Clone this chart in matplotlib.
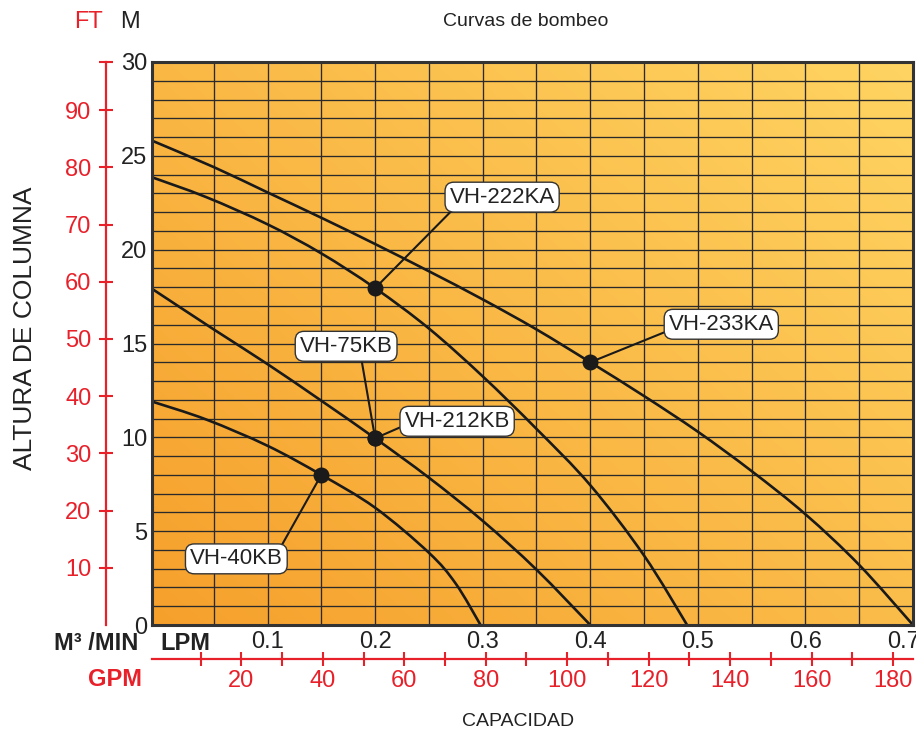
import numpy as np
import matplotlib
matplotlib.use("Agg")
import matplotlib.pyplot as plt
from matplotlib.path import Path
from matplotlib.patches import PathPatch
from matplotlib.transforms import ScaledTranslation

plt.rcParams['font.family'] = ['Liberation Sans', 'DejaVu Sans']

# ---------------- data (x in m3/min, y in m) ----------------
vh233ka_x = [-0.007, 0.05, 0.10, 0.15, 0.20, 0.25, 0.30, 0.35, 0.40, 0.45, 0.50, 0.55, 0.60, 0.65, 0.70]
vh233ka_y = [25.8, 24.4, 23.05, 21.7, 20.3, 18.85, 17.35, 15.75, 14.0, 12.2, 10.3, 8.2, 5.9, 3.2, 0.0]

vh222ka_x = [-0.007, 0.043, 0.10, 0.15, 0.20, 0.25, 0.30, 0.35, 0.40, 0.45, 0.49]
vh222ka_y = [23.85, 22.8, 21.35, 19.8, 17.95, 15.8, 13.25, 10.45, 7.45, 3.7, 0.0]

vh212kb_x = [-0.007, 0.05, 0.10, 0.15, 0.20, 0.25, 0.30, 0.35, 0.40]
vh212kb_y = [17.9, 15.75, 13.9, 11.95, 9.95, 7.85, 5.55, 2.95, 0.0]

vh40kb_x = [-0.007, 0.043, 0.10, 0.15, 0.20, 0.25, 0.275, 0.298]
vh40kb_y = [11.9, 10.95, 9.55, 8.0, 6.25, 3.85, 2.2, 0.0]

point_names = ['VH-222KA', 'VH-233KA', 'VH-75KB', 'VH-212KB', 'VH-40KB']
point_x = [0.20, 0.40, 0.20, 0.20, 0.15]
point_y = [17.95, 14.0, 9.95, 9.95, 8.0]

m_ticks = [0, 5, 10, 15, 20, 25, 30]
ft_ticks = [10, 20, 30, 40, 50, 60, 70, 80, 90]
m3_ticks = [0.1, 0.2, 0.3, 0.4, 0.5, 0.6, 0.7]
gpm_major = [20, 40, 60, 80, 100, 120, 140, 160, 180]
gpm_minor = [10, 30, 50, 70, 90, 110, 130, 150, 170]

RED = '#E8202A'

W, H = 916, 735
fig = plt.figure(figsize=(W / 100, H / 100), dpi=100)

def fx(px):
    return px / W

def fy(py):
    return 1 - py / H

L, R, T, B = 152, 913, 62, 625
ax = fig.add_axes([fx(L), fy(B), (R - L) / W, (B - T) / H])

# gradient background
n = 300
gx, gy = np.meshgrid(np.linspace(0, 1, n), np.linspace(0, 1, n))
t = (gx * 0.55 + gy * 0.45)
c0 = np.array([246, 160, 44]) / 255
c1 = np.array([255, 212, 98]) / 255
img = c0[None, None, :] * (1 - t[..., None]) + c1[None, None, :] * t[..., None]
ax.imshow(img, extent=[0, 1, 0, 1], transform=ax.transAxes, origin='lower',
          aspect='auto', zorder=0, interpolation='bilinear')

ax.set_xlim(-0.0074, 0.7)
ax.set_ylim(0, 30)

ax.set_xticks(m3_ticks)
ax.set_xticks(np.arange(0.05, 0.7, 0.1), minor=True)
ax.set_yticks(m_ticks)
ax.set_yticks([v for v in range(1, 30) if v % 5 != 0], minor=True)
ax.set_axisbelow(True)
ax.grid(which='both', color='#2a2a2a', lw=0.95)
ax.tick_params(which='both', length=0)
ax.tick_params(axis='x', labelsize=17, pad=4.5, colors='#222222')
ax.tick_params(axis='y', labelsize=17, pad=3.5, colors='#222222')
for s in ax.spines.values():
    s.set_linewidth(2.2)
    s.set_color('#333333')
    s.set_zorder(5)


def smooth_curve(axis, xs, ys, **kw):
    """Draw a smooth Catmull-Rom (cubic Bezier) path through the read points."""
    P = np.column_stack([xs, ys]).astype(float)
    npts = len(P)
    verts = [P[0]]
    codes = [Path.MOVETO]
    for i in range(npts - 1):
        p0 = P[i - 1] if i > 0 else P[i]
        p1 = P[i]
        p2 = P[i + 1]
        p3 = P[i + 2] if i + 2 < npts else P[i + 1]
        verts += [p1 + (p2 - p0) / 6.0, p2 - (p3 - p1) / 6.0, p2]
        codes += [Path.CURVE4] * 3
    axis.add_patch(PathPatch(Path(verts, codes), fill=False, **kw))


for xs, ys in [(vh233ka_x, vh233ka_y), (vh222ka_x, vh222ka_y),
               (vh212kb_x, vh212kb_y), (vh40kb_x, vh40kb_y)]:
    smooth_curve(ax, xs, ys, edgecolor='#1a1a1a', lw=1.9, zorder=3, capstyle='butt')

ax.plot(point_x, point_y, 'o', color='#1a1a1a', ms=10.5, zorder=4)

# labels with leader lines (offsets in pixels, relpos on box)
label_layout = {
    'VH-222KA': ((127, 91), (0.05, 0.0)),
    'VH-233KA': ((131, 38), (0.0, 0.2)),
    'VH-75KB': ((-29, 92), (0.66, 0.0)),
    'VH-212KB': ((82, 17), (0.0, 0.3)),
    'VH-40KB': ((-85, -84), (0.97, 1.0)),
}
for name, px_, py_ in zip(point_names, point_x, point_y):
    off, rel = label_layout[name]
    ax.annotate(name, xy=(px_, py_), xytext=off, textcoords='offset pixels',
                ha='center', va='center', fontsize=16, color='#222222', zorder=6,
                bbox=dict(boxstyle='round,pad=0.2,rounding_size=0.4',
                          fc='white', ec='#333333', lw=1.0),
                arrowprops=dict(arrowstyle='-', color='#1a1a1a', lw=1.5,
                                relpos=rel, shrinkA=0, shrinkB=0))

# FT axis (left, red)
ax2 = ax.twinx()
ax2.set_ylim(0, 30 * 3.28084)
ax2.yaxis.set_ticks_position('left')
ax2.spines['left'].set_position(('outward', (L - 106) * 0.72))
for k in ['right', 'top', 'bottom']:
    ax2.spines[k].set_visible(False)
ax2.spines['left'].set_color(RED)
ax2.spines['left'].set_linewidth(1.6)
ax2.set_yticks(ft_ticks)
ax2.set_yticks([30 * 3.28084], minor=True)
ax2.tick_params(axis='y', which='both', direction='inout', length=10, width=1.5,
                color=RED, labelcolor=RED, labelsize=17, pad=5.5)

# GPM axis (bottom, red)
sec = ax.secondary_xaxis(-(659 - B) / (B - T),
                         functions=(lambda x: x * 1000 / 3.78541,
                                    lambda g: g * 3.78541 / 1000))
sec.set_xticks(gpm_major)
sec.set_xticks(gpm_minor, minor=True)
sec.spines['bottom'].set_color(RED)
sec.spines['bottom'].set_linewidth(1.6)
sec.tick_params(axis='x', which='both', direction='inout', length=9.5, width=1.5,
                color=RED, labelcolor=RED, labelsize=17, pad=3.5)

# nudge the last m3/min label left, as in the reference
fig.canvas.draw()
last = ax.xaxis.get_major_ticks()[-1].label1
last.set_transform(last.get_transform() + ScaledTranslation(-0.09, 0, fig.dpi_scale_trans))

# texts
fig.text(fx(526), fy(21), 'Curvas de bombeo', fontsize=14, ha='center', va='center', color='#222222')
fig.text(fx(103), fy(22), 'FT', fontsize=17, ha='right', va='center', color=RED)
fig.text(fx(120), fy(22), 'M', fontsize=17, ha='left', va='center', color='#222222')
fig.text(fx(25), fy(328), 'ALTURA DE COLUMNA', fontsize=19, rotation=90,
         ha='center', va='center', color='#222222')
fig.text(fx(518), fy(722), 'CAPACIDAD', fontsize=14, ha='center', va='center', color='#222222')
fig.text(fx(138), fy(644), 'M³ /MIN', fontsize=17, fontweight='bold', ha='right', va='center', color='#222222')
fig.text(fx(160), fy(644), 'LPM', fontsize=17, fontweight='bold', ha='left', va='center', color='#222222')
fig.text(fx(142), fy(679), 'GPM', fontsize=17, fontweight='bold', ha='right', va='center', color=RED)

fig.savefig('out.png', dpi=100)
